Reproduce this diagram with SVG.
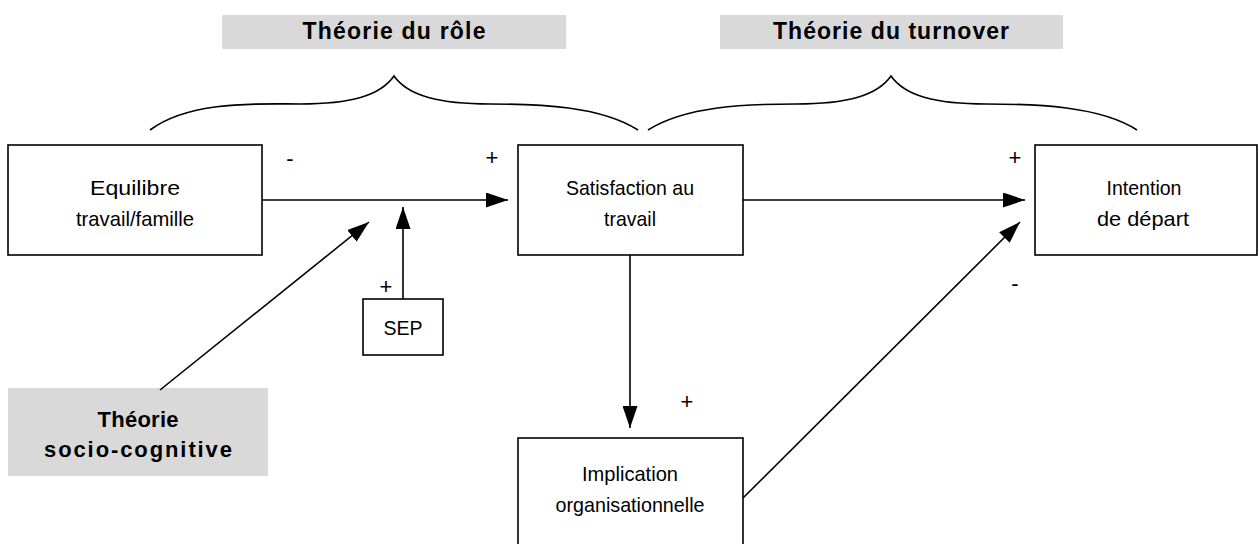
<svg xmlns="http://www.w3.org/2000/svg" width="1259" height="544" viewBox="0 0 1259 544">
<style>
.box{fill:#fff;stroke:#000;stroke-width:1.6}
.th{fill:#d9d9d9;stroke:none}
.t{font-family:"Liberation Sans",Arial,sans-serif;font-size:21px;fill:#000;text-anchor:middle}
.b{font-family:"Liberation Sans",Arial,sans-serif;font-size:23px;font-weight:bold;fill:#000;text-anchor:middle}
.s{font-family:"Liberation Sans",Arial,sans-serif;font-size:22px;fill:#000;text-anchor:middle}
.ln{fill:none;stroke:#000;stroke-width:1.6}
</style>
<defs>
<marker id="ah" markerWidth="22" markerHeight="15" refX="22" refY="7.5" orient="auto" markerUnits="userSpaceOnUse">
<path d="M0,0 L22,7.5 L0,15 Z" fill="#000"/>
</marker>
</defs>
<rect width="1259" height="544" fill="#fff"/>
<g id="theorie-role">
<rect class="th" x="222" y="15" width="344" height="34"/>
<text class="b" x="394" y="39" textLength="183" lengthAdjust="spacing">Théorie du rôle</text>
</g>
<g id="theorie-turnover">
<rect class="th" x="720" y="15" width="343" height="34"/>
<text class="b" x="891" y="39" textLength="236" lengthAdjust="spacing">Théorie du turnover</text>
</g>
<g id="braces">
<path class="ln" d="M150,130 C190,100 260,104 300,104 C350,104 380,96 394,76 C408,96 440,104 490,104 C540,104 600,106 638,130"/>
<path class="ln" d="M648,130 C686,106 746,104 796,104 C846,104 877,96 891,76 C905,96 936,104 986,104 C1036,104 1100,106 1137,130"/>
</g>
<g id="equilibre">
<rect class="box" x="8" y="145" width="254" height="110"/>
<text class="t" x="135" y="195" textLength="90" lengthAdjust="spacingAndGlyphs">Equilibre</text>
<text class="t" x="135" y="226" textLength="118" lengthAdjust="spacingAndGlyphs">travail/famille</text>
</g>
<g id="satisfaction">
<rect class="box" x="518" y="145" width="225" height="110"/>
<text class="t" x="630" y="195" textLength="128" lengthAdjust="spacingAndGlyphs">Satisfaction au</text>
<text class="t" x="630" y="226" textLength="52" lengthAdjust="spacingAndGlyphs">travail</text>
</g>
<g id="intention">
<rect class="box" x="1035" y="145" width="222" height="110"/>
<text class="t" x="1144" y="195" textLength="75" lengthAdjust="spacingAndGlyphs">Intention</text>
<text class="t" x="1143" y="226" textLength="92" lengthAdjust="spacingAndGlyphs">de départ</text>
</g>
<g id="sep">
<rect class="box" x="363" y="299" width="80" height="56"/>
<text class="t" x="403" y="335" textLength="39" lengthAdjust="spacingAndGlyphs">SEP</text>
</g>
<g id="implication">
<rect class="box" x="518" y="438" width="225" height="112"/>
<text class="t" x="630" y="481" textLength="96" lengthAdjust="spacingAndGlyphs">Implication</text>
<text class="t" x="630" y="512" textLength="149" lengthAdjust="spacingAndGlyphs">organisationnelle</text>
</g>
<g id="socio-cognitive">
<rect class="th" x="8" y="388" width="260" height="88"/>
<text class="b" x="138" y="427" textLength="81" lengthAdjust="spacing" style="font-size:22px">Théorie</text>
<text class="b" x="138" y="457" textLength="188" lengthAdjust="spacing" style="font-size:22px">socio-cognitive</text>
</g>
<g id="connectors">
<line class="ln" x1="262" y1="200" x2="508" y2="200" marker-end="url(#ah)"/>
<line class="ln" x1="403" y1="299" x2="403" y2="207" marker-end="url(#ah)"/>
<line class="ln" x1="160" y1="390" x2="369" y2="222" marker-end="url(#ah)"/>
<line class="ln" x1="743" y1="200" x2="1025" y2="200" marker-end="url(#ah)"/>
<line class="ln" x1="630" y1="255" x2="630" y2="428" marker-end="url(#ah)"/>
<line class="ln" x1="743" y1="498" x2="1020" y2="222" marker-end="url(#ah)"/>
</g>
<g id="signs">
<text class="s" x="290" y="166">-</text>
<text class="s" x="492" y="165">+</text>
<text class="s" x="386" y="294">+</text>
<text class="s" x="687" y="409">+</text>
<text class="s" x="1015" y="165">+</text>
<text class="s" x="1015" y="291">-</text>
</g>
</svg>
